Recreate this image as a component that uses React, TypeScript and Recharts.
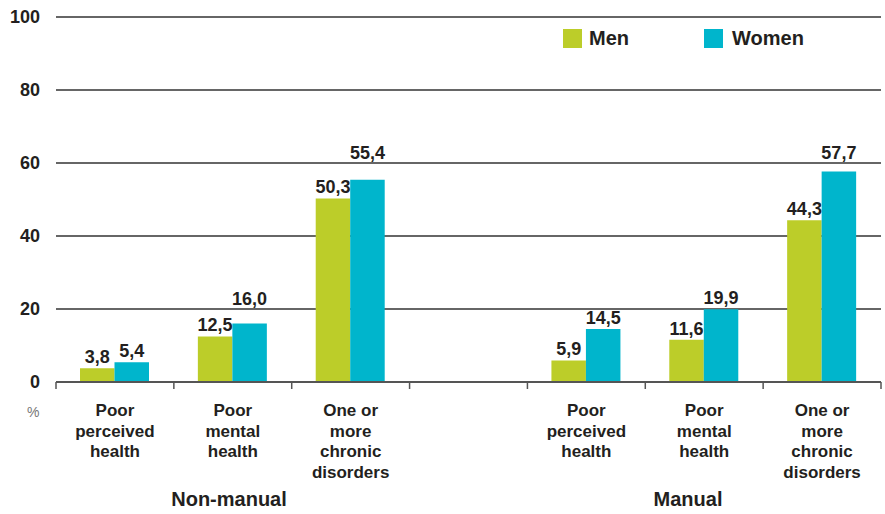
import React from "react";
import { BarChart, Bar, XAxis, YAxis, CartesianGrid, LabelList } from "recharts";

const categories = [
    "Poor\nperceived\nhealth",
    "Poor\nmental\nhealth",
    "One or\nmore\nchronic\ndisorders",
    "",
    "Poor\nperceived\nhealth",
    "Poor\nmental\nhealth",
    "One or\nmore\nchronic\ndisorders",
];
const men = [3.8, 12.5, 50.3, null, 5.9, 11.6, 44.3];
const women = [5.4, 16.0, 55.4, null, 14.5, 19.9, 57.7];
const yTicks = [0, 20, 40, 60, 80, 100];
const groups = ["Non-manual", "Manual"];

const data = categories.map((name, i) => ({ name, men: men[i], women: women[i] }));

const W = 885;
const H = 514;
const X_AXIS_H = 132;
const margin = { top: 17, right: 4, left: 0, bottom: 0 };
const AXIS_Y = H - X_AXIS_H;
const FONT = '"Liberation Sans", Arial, Helvetica, sans-serif';
const INK = "#231f20";
const GREEN = "#bccd29";
const CYAN = "#00b5cc";

const fmt = (v: any) => (v == null ? "" : Number(v).toFixed(1).replace(".", ","));

// pixel y of the grid lines, so value labels can hop over them like in the original
const gridY = yTicks.map((t) => AXIS_Y - (t / 100) * (AXIS_Y - margin.top));

const ValueLabel = (props: any) => {
    const { x, y, width, value } = props;
    if (value == null) return null;
    let base = y - 5;
    const top = base - 13;
    const hit = gridY.find((g) => g > top && g < base + 2);
    if (hit !== undefined) base = hit - 4;
    return (
        <text x={x + width / 2} y={base} textAnchor="middle" fontFamily={FONT} fontWeight="bold" fontSize={18} fill={INK}>
            {fmt(value)}
        </text>
    );
};

const YTick = (props: any) => {
    const { y, payload } = props;
    return (
        <text x={40} y={y} dy={6} textAnchor="end" fontFamily={FONT} fontWeight="bold" fontSize={18} fill={INK}>
            {payload.value}
        </text>
    );
};

const XTick = (props: any) => {
    const { x, payload, index, visibleTicksCount } = props;
    const half = payload.offset ?? (W - 56 - margin.right) / categories.length / 2;
    const lines = String(payload.value).split("\n");
    const last = index === (visibleTicksCount ?? categories.length) - 1;
    return (
        <g>
            <line x1={x - half} x2={x - half} y1={AXIS_Y} y2={AXIS_Y + 7} stroke="#555" strokeWidth={1.5} />
            {last && <line x1={x + half} x2={x + half} y1={AXIS_Y} y2={AXIS_Y + 7} stroke="#555" strokeWidth={1.5} />}
            <text x={x} y={AXIS_Y + 34} textAnchor="middle" fontFamily={FONT} fontWeight="bold" fontSize={17} fill={INK}>
                {lines.map((l, i) => (
                    <tspan key={i} x={x} dy={i === 0 ? 0 : 20.5}>
                        {l}
                    </tspan>
                ))}
            </text>
        </g>
    );
};

export default function App() {
    return (
        <div style={{ position: "relative", width: W, height: H, fontFamily: FONT }}>
            <style>{`body{margin:0}`}</style>
            <BarChart width={W} height={H} data={data} margin={margin} barGap={0} barSize={34.5}>
                <CartesianGrid horizontal vertical={false} stroke="#333" strokeWidth={1.5} />
                <YAxis
                    domain={[0, 100]}
                    ticks={yTicks}
                    width={56}
                    axisLine={false}
                    tickLine={false}
                    tick={<YTick />}
                    interval={0}
                />
                <XAxis
                    dataKey="name"
                    interval={0}
                    tickLine={false}
                    axisLine={{ stroke: "#555", strokeWidth: 2 }}
                    tick={<XTick />}
                    height={X_AXIS_H}
                />
                <Bar dataKey="men" fill={GREEN} isAnimationActive={false}>
                    <LabelList dataKey="men" content={<ValueLabel />} />
                </Bar>
                <Bar dataKey="women" fill={CYAN} isAnimationActive={false}>
                    <LabelList dataKey="women" content={<ValueLabel />} />
                </Bar>
            </BarChart>

            <div style={{ position: "absolute", left: 563, top: 27, display: "flex", alignItems: "center", fontWeight: "bold", fontSize: 20, color: INK }}>
                <span style={{ width: 19, height: 19, background: GREEN, display: "inline-block", marginRight: 7 }} />
                <span style={{ width: 115 }}>Men</span>
                <span style={{ width: 19, height: 19, background: CYAN, display: "inline-block", marginRight: 9 }} />
                <span>Women</span>
            </div>

            <div style={{ position: "absolute", left: 27, top: 404, fontSize: 14, color: "#777" }}>%</div>
            <div style={{ position: "absolute", left: 129, width: 200, top: 488, textAlign: "center", fontWeight: "bold", fontSize: 20, color: INK }}>
                {groups[0]}
            </div>
            <div style={{ position: "absolute", left: 588, width: 200, top: 488, textAlign: "center", fontWeight: "bold", fontSize: 20, color: INK }}>
                {groups[1]}
            </div>
        </div>
    );
}
